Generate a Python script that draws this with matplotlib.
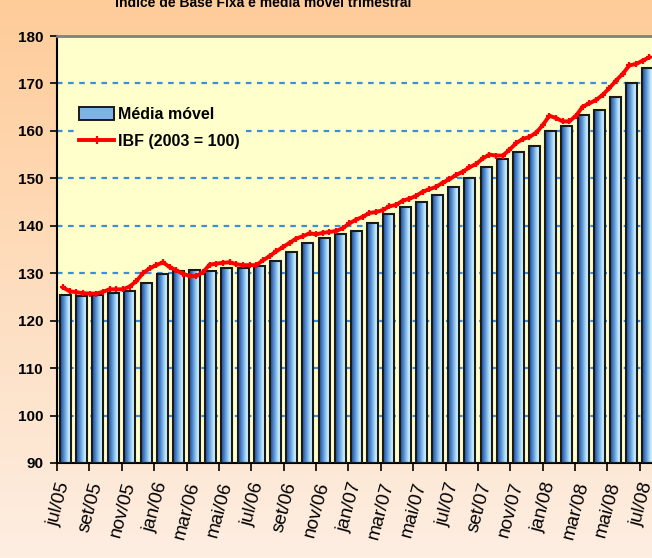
import numpy as np
import matplotlib
matplotlib.use("Agg")
import matplotlib.pyplot as plt
from matplotlib.colors import LinearSegmentedColormap, to_rgb
from matplotlib.patches import Rectangle
from matplotlib.lines import Line2D

plt.rcParams['font.family'] = ['Liberation Sans', 'DejaVu Sans']

# ---------------- data ----------------
months = ["jul/05", "ago/05", "set/05", "out/05", "nov/05", "dez/05",
          "jan/06", "fev/06", "mar/06", "abr/06", "mai/06", "jun/06",
          "jul/06", "ago/06", "set/06", "out/06", "nov/06", "dez/06",
          "jan/07", "fev/07", "mar/07", "abr/07", "mai/07", "jun/07",
          "jul/07", "ago/07", "set/07", "out/07", "nov/07", "dez/07",
          "jan/08", "fev/08", "mar/08", "abr/08", "mai/08", "jun/08", "jul/08"]

media_movel = [125.5, 125.3, 125.5, 125.8, 126.2, 128.0,
               129.9, 130.4, 130.6, 130.5, 131.0, 131.0,
               131.5, 132.5, 134.5, 136.3, 137.5, 138.3,
               139.0, 140.5, 142.5, 144.0, 145.0, 146.5,
               148.2, 150.0, 152.3, 154.0, 155.5, 156.8,
               160.0, 161.1, 163.3, 164.5, 167.1, 170.1, 173.2]

ibf = [127.0, 126.2, 126.0, 125.8, 125.7, 125.7, 126.1, 126.6, 126.6, 126.6,
       127.2, 128.3, 130.0, 131.0, 131.7, 132.3, 131.3, 130.6, 129.9, 129.4,
       129.4, 130.2, 131.8, 132.0, 132.2, 132.3, 131.9, 131.7, 131.7, 131.7,
       132.7, 133.6, 134.6, 135.5, 136.4, 137.3, 137.8, 138.4, 138.2, 138.5,
       138.7, 138.9, 139.5, 140.5, 141.3, 141.9, 142.7, 142.9, 143.3, 144.1,
       144.4, 145.3, 145.7, 146.3, 147.2, 147.7, 148.2, 149.1, 149.8, 150.7,
       151.4, 152.3, 153.0, 154.2, 155.0, 154.8, 154.8, 156.0, 157.4, 158.3,
       158.7, 159.6, 161.2, 163.2, 162.7, 162.0, 162.0, 163.2, 165.1, 165.8,
       166.5, 167.6, 169.0, 170.6, 172.0, 173.8, 174.1, 174.8, 175.5]

yticks = [90, 100, 110, 120, 130, 140, 150, 160, 170, 180]
title = "Índice de Base Fixa e média móvel trimestral"
label_bars = "Média móvel"
label_line = "IBF (2003 = 100)"

# ---------------- figure ----------------
W, H = 652, 558
fig = plt.figure(figsize=(W / 100, H / 100), dpi=100)

# background gradient
bg = fig.add_axes([0, 0, 1, 1], zorder=-10)
bg.axis('off')
top_c = np.array(to_rgb("#FFCC99"))
bot_c = np.array(to_rgb("#FDEEE2"))
t = np.linspace(0, 1, 256)[:, None]
grad = top_c[None, :] * (1 - t) + bot_c[None, :] * t
grad = grad[:, None, :].repeat(2, axis=1)
bg.imshow(grad, aspect='auto', extent=[0, 1, 0, 1], origin='upper')
bg.set_xlim(0, 1); bg.set_ylim(0, 1)

left_px, right_px, top_px, bot_px = 57, 656, 36, 463
ax = fig.add_axes([left_px / W, 1 - bot_px / H, (right_px - left_px) / W, (bot_px - top_px) / H])
ax.set_facecolor("#FFFFCC")
n = len(months)

# grid
for yv in yticks[1:-1]:
    ax.axhline(yv, color="#3A8FD6", lw=1.6, ls=(0, (2.5, 2.5)), zorder=1)

# gradient bars
cmap = LinearSegmentedColormap.from_list(
    "barg", [(0.0, "#1A4898"), (0.35, "#5A94D6"), (0.7, "#B8E4FA"),
             (0.88, "#DDF6FF"), (1.0, "#9CCBEE")])
gimg = np.linspace(0, 1, 64)[None, :]
bw = 0.68
xs = np.arange(n) + 0.5
bars = ax.bar(xs, np.array(media_movel) - 90, bottom=90, width=bw,
              facecolor='none', edgecolor="#1A1A1A", lw=1.5, zorder=3)
for b in bars:
    x0 = b.get_x(); w = b.get_width(); h = b.get_height() + 90
    im = ax.imshow(gimg, cmap=cmap, aspect='auto', extent=[x0, x0 + w, 90, h],
                   zorder=2, interpolation='bilinear')
    im.set_clip_path(b)
ax.set_xlim(0, n)
ax.set_ylim(90, 180)

# line
lx = np.linspace((63 - left_px) / 16.2, (649.7 - left_px) / 16.2, len(ibf))
ax.plot(lx, ibf, color="#FF0000", lw=2.8, marker='+', ms=5, mew=1.6, zorder=5,
        solid_joinstyle='round', clip_on=False)

# axes styling
ax.spines['right'].set_visible(False)
ax.spines['top'].set_color("#808080")
ax.spines['top'].set_linewidth(2)
ax.spines['left'].set_color("black")
ax.spines['left'].set_linewidth(1.5)
ax.spines['bottom'].set_color("black")
ax.spines['bottom'].set_linewidth(1.5)

ax.set_yticks(yticks)
ax.set_yticklabels([str(v) for v in yticks], fontsize=11, fontweight='bold')
ax.tick_params(axis='y', length=5, width=1.2, pad=5)

ax.set_xticks(np.arange(0, n + 1, 2))
ax.set_xticklabels([])
ax.tick_params(axis='x', which='major', length=6, width=1.2)
ax.set_xticks(xs[::2], minor=True)
ax.set_xticklabels(months[::2], minor=True, rotation=75, fontsize=13.5,
                   ha='right', va='center', rotation_mode='anchor')
ax.tick_params(axis='x', which='minor', length=0, pad=14)

# legend
bar_handle = Rectangle((0, 0), 1, 1, facecolor="#7FB2E6", edgecolor="#1A1A1A", lw=1.4)
line_handle = Line2D([], [], color="#FF0000", lw=2.8, marker='+', ms=6, mew=1.6)
leg = ax.legend([bar_handle, line_handle], [label_bars, label_line],
                loc='upper left', bbox_to_anchor=(0.018, 0.86), frameon=True,
                facecolor="#FFFFCC", edgecolor='none', framealpha=1,
                prop={'weight': 'bold', 'size': 11.5}, handlelength=2.2,
                handleheight=0.8, handletextpad=0.25, labelspacing=0.75,
                borderpad=0.2)
leg.set_zorder(6)

# title (partially cut at top, as in the reference)
fig.text(263 / W, 1 - 7 / H, title, ha='center', va='baseline',
         fontsize=10, fontweight='bold', color='black')

fig.savefig("out.png", dpi=100)
